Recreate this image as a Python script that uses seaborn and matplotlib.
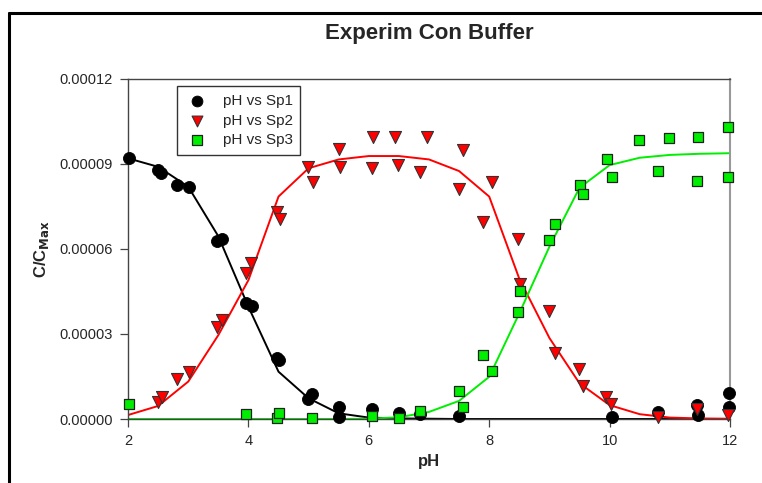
import numpy as np
import pandas as pd
import seaborn as sns
import matplotlib.pyplot as plt
from matplotlib.lines import Line2D

sp1_ph = [2.02, 2.50, 2.54, 2.82, 3.01, 3.47, 3.56, 3.96, 4.06, 4.48, 4.51, 4.99, 5.06,
          5.50, 5.50, 6.06, 6.50, 6.85, 7.50, 10.04, 10.80, 11.45, 11.47, 11.98, 11.98]
sp1_c = [9.20e-5, 8.79e-5, 8.69e-5, 8.26e-5, 8.18e-5, 6.28e-5, 6.34e-5, 4.10e-5, 3.99e-5,
         2.14e-5, 2.08e-5, 0.71e-5, 0.88e-5, 0.43e-5, 0.08e-5, 0.35e-5, 0.22e-5, 0.18e-5,
         0.10e-5, 0.06e-5, 0.26e-5, 0.48e-5, 0.14e-5, 0.91e-5, 0.42e-5]

sp2_ph = [2.49, 2.56, 2.82, 3.01, 3.47, 3.56, 3.96, 4.05, 4.47, 4.52, 4.99, 5.07, 5.50,
          5.52, 6.07, 6.05, 6.44, 6.49, 6.97, 6.85, 7.50, 7.56, 7.90, 8.05, 8.48, 8.51,
          8.99, 9.10, 9.49, 9.55, 9.94, 10.03, 10.80, 11.46, 11.97]
sp2_c = [0.59e-5, 0.79e-5, 1.40e-5, 1.67e-5, 3.26e-5, 3.49e-5, 5.16e-5, 5.52e-5, 7.32e-5,
         7.05e-5, 8.90e-5, 8.37e-5, 9.52e-5, 8.90e-5, 9.96e-5, 8.85e-5, 9.96e-5, 8.96e-5,
         9.96e-5, 8.71e-5, 8.11e-5, 9.49e-5, 6.94e-5, 8.37e-5, 6.35e-5, 4.75e-5, 3.81e-5,
         2.34e-5, 1.78e-5, 1.16e-5, 0.79e-5, 0.53e-5, 0.08e-5, 0.36e-5, 0.15e-5]

sp3_ph = [2.02, 3.96, 4.48, 4.51, 5.06, 6.06, 6.50, 6.85, 7.50, 7.57, 7.90, 8.04, 8.48,
          8.51, 8.99, 9.10, 9.50, 9.55, 9.95, 10.04, 10.49, 10.81, 10.98, 11.46, 11.47,
          11.97, 11.97]
sp3_c = [0.52e-5, 0.17e-5, 0.02e-5, 0.20e-5, 0.02e-5, 0.12e-5, 0.02e-5, 0.29e-5, 1.00e-5,
         0.43e-5, 2.26e-5, 1.69e-5, 3.78e-5, 4.53e-5, 6.32e-5, 6.87e-5, 8.25e-5, 7.94e-5,
         9.16e-5, 8.53e-5, 9.85e-5, 8.75e-5, 9.91e-5, 8.41e-5, 9.94e-5, 1.03e-4, 8.53e-5]

# fitted curves
fit_ph = [2, 2.5, 3, 3.5, 4, 4.5, 5, 5.5, 6, 6.5, 7, 7.5, 8, 8.5, 9, 9.5, 10, 10.5, 11, 11.5, 12]
fit_sp1 = [9.20e-5, 8.90e-5, 8.20e-5, 6.45e-5, 3.96e-5, 1.67e-5, 0.73e-5, 0.20e-5, 0.05e-5,
           0.02e-5, 0.01e-5, 0, 0, 0, 0, 0, 0, 0, 0, 0, 0]
fit_sp2 = [0.14e-5, 0.46e-5, 1.32e-5, 2.96e-5, 4.90e-5, 7.85e-5, 8.85e-5, 9.16e-5, 9.28e-5,
           9.28e-5, 9.16e-5, 8.75e-5, 7.85e-5, 4.95e-5, 2.86e-5, 1.26e-5, 0.49e-5, 0.17e-5,
           0.05e-5, 0.02e-5, 0.01e-5]
fit_sp3 = [0, 0, 0, 0, 0, 0, 0, 0, 0.01e-5, 0.06e-5, 0.25e-5, 0.64e-5, 1.49e-5, 3.73e-5,
           6.08e-5, 8.16e-5, 8.96e-5, 9.22e-5, 9.32e-5, 9.36e-5, 9.38e-5]

df1 = pd.DataFrame({'pH': sp1_ph, 'C': sp1_c})
df2 = pd.DataFrame({'pH': sp2_ph, 'C': sp2_c})
df3 = pd.DataFrame({'pH': sp3_ph, 'C': sp3_c})
fits = pd.DataFrame({'pH': fit_ph, 'Sp1': fit_sp1, 'Sp2': fit_sp2, 'Sp3': fit_sp3})

sns.set_style('white')
plt.rcParams['font.family'] = ['Liberation Sans', 'DejaVu Sans']

fig = plt.figure(figsize=(7.62, 4.83), dpi=100)
ax = fig.add_axes([0.168, 0.1325, 0.790, 0.704])

sns.lineplot(data=fits, x='pH', y='Sp1', color='black', lw=1.4, ax=ax, sort=False, estimator=None)
sns.lineplot(data=fits, x='pH', y='Sp2', color='red', lw=1.4, ax=ax, sort=False, estimator=None)
sns.lineplot(data=fits, x='pH', y='Sp3', color='#00ee00', lw=1.4, ax=ax, sort=False, estimator=None)

sns.scatterplot(data=df1, x='pH', y='C', marker='o', s=75, color='black',
                edgecolor='black', linewidth=0.6, ax=ax, label='pH vs Sp1', zorder=3)
sns.scatterplot(data=df2, x='pH', y='C', marker='v', s=75, color='red',
                edgecolor='#333333', linewidth=0.8, ax=ax, label='pH vs Sp2', zorder=3)
sns.scatterplot(data=df3, x='pH', y='C', marker='s', s=55, color='#00ee00',
                edgecolor='#222222', linewidth=0.9, ax=ax, label='pH vs Sp3', zorder=3)
for coll in ax.collections:
    coll.set_clip_on(False)

ax.set_xlim(2, 12)
ax.set_ylim(0, 0.00012)
ax.set_xticks([2, 4, 6, 8, 10, 12])
ax.set_yticks([0, 0.00003, 0.00006, 0.00009, 0.00012])
ax.set_yticklabels(['0.00000', '0.00003', '0.00006', '0.00009', '0.00012'])
ax.tick_params(axis='both', direction='out', length=6, width=0.9, color='#444444',
               labelsize=10.5, pad=5, left=True, bottom=True)

for side in ['left', 'bottom', 'top']:
    ax.spines[side].set_color('#444444')
    ax.spines[side].set_linewidth(1.0)
ax.spines['right'].set_color('#999999')
ax.spines['right'].set_linewidth(1.5)

ax.set_xlabel('pH', fontsize=12, fontweight='bold', labelpad=4)
ax.set_ylabel(r'C/C$_{\mathbf{Max}}$', fontsize=12, fontweight='bold', labelpad=6)
fig.text(0.564, 0.93, 'Experim Con Buffer', fontsize=16, fontweight='bold', ha='center', va='center')

leg = ax.legend(loc='upper left', bbox_to_anchor=(0.0814, 0.979), borderaxespad=0,
                fontsize=11, frameon=True, fancybox=False, edgecolor='black',
                handlelength=1.6, handletextpad=0.9, borderpad=0.5, labelspacing=0.38,
                markerscale=0.9)
leg.get_frame().set_linewidth(1.0)

# outer frame (left and top edges visible)
fig.add_artist(Line2D([9 / 762, 9 / 762], [0, 1 - 13 / 483], transform=fig.transFigure,
                      color='black', lw=2.2))
fig.add_artist(Line2D([9 / 762, 1], [1 - 13 / 483, 1 - 13 / 483], transform=fig.transFigure,
                      color='black', lw=2.2))

plt.savefig('out.png', dpi=100)
